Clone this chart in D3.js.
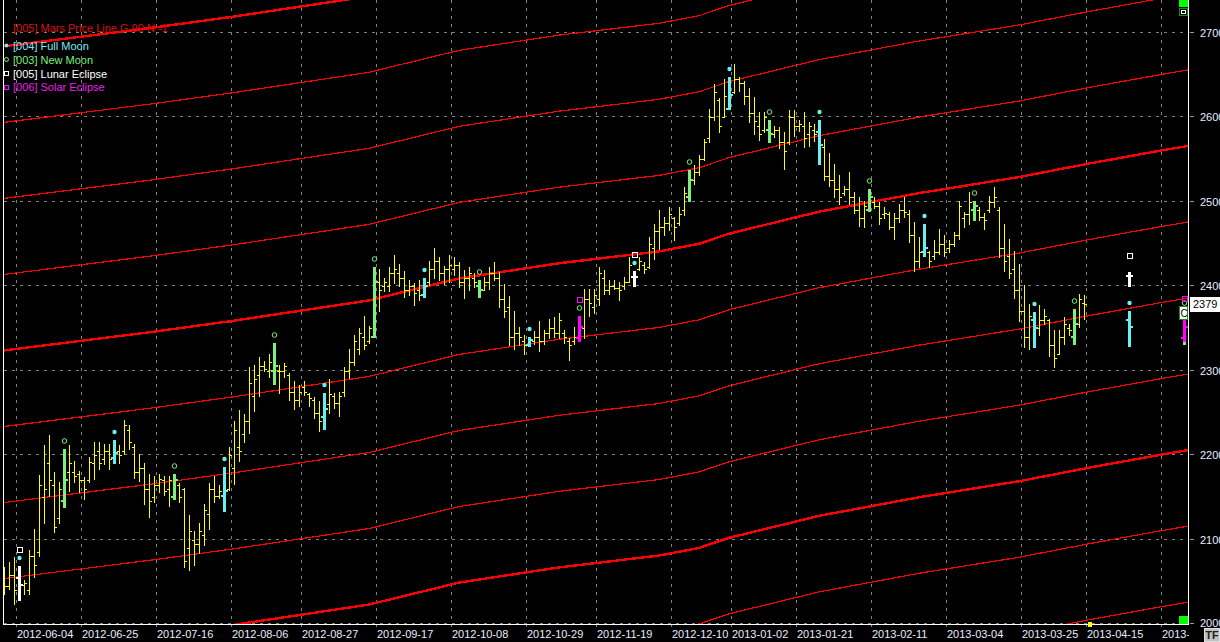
<!DOCTYPE html>
<html><head><meta charset="utf-8">
<script src="https://cdn.jsdelivr.net/npm/d3@7"></script>
<style>html,body{margin:0;padding:0;background:#000;overflow:hidden}svg{display:block}</style>
</head><body><svg id="c" width="1220" height="642"></svg>
<script>
// ---------------- data ----------------
const opens=[2060,2045,2058,2055,2046,2040,2080,2085,2150,2190,2165,2125,2146,2180,2180,2178,2170,2170,2190,2205,
2195,2205,2197,2205,2205,2230,2210,2180,2185,2160,2150,2165,2170,2160,2150,2165,2160,2090,2100,2095,
2105,2130,2160,2152,2151,2160,2185,2210,2225,2240,2270,2295,2305,2300,2300,2300,2300,2295,2275,2265,
2280,2272,2265,2250,2245,2260,2270,2262,2275,2300,2310,2325,2340,2335,2340,2405,2400,2400,2415,2415,
2410,2395,2400,2395,2390,2405,2420,2430,2415,2420,2420,2425,2405,2410,2410,2400,2395,2405,2415,2410,
2385,2375,2340,2345,2335,2330,2335,2340,2335,2345,2350,2345,2345,2335,2335,2338,2350,2385,2375,2385,
2410,2395,2400,2398,2400,2405,2411,2420,2425,2422,2445,2465,2470,2475,2480,2475,2490,2505,2525,2535,
2550,2575,2600,2620,2600,2609,2630,2645,2640,2625,2605,2590,2585,2585,2580,2585,2570,2570,2600,2590,
2590,2580,2585,2582,2565,2530,2525,2515,2510,2515,2505,2490,2480,2490,2500,2495,2485,2485,2470,2480,
2490,2485,2460,2430,2440,2440,2435,2440,2450,2445,2450,2460,2480,2485,2490,2490,2482,2490,2500,2490,
2445,2435,2420,2395,2370,2340,2360,2350,2360,2360,2330,2320,2340,2350,2340,2355,2380];
const highs=[2067,2073,2079,2069,2052,2087,2113,2176,2212,2224,2180,2168,2207,2212,2193,2181,2174,2198,2216,2215,
2213,2213,2218,2212,2242,2236,2213,2201,2190,2177,2175,2177,2175,2175,2177,2167,2161,2129,2110,2119,
2142,2167,2175,2165,2186,2209,2240,2253,2248,2304,2307,2316,2311,2319,2333,2307,2309,2297,2288,2283,
2288,2274,2269,2264,2274,2290,2274,2275,2304,2325,2342,2350,2364,2353,2423,2420,2409,2422,2437,2426,
2418,2407,2404,2407,2409,2430,2445,2434,2424,2437,2434,2428,2419,2422,2415,2407,2411,2422,2428,2417,
2402,2388,2370,2351,2342,2340,2347,2359,2348,2361,2363,2368,2348,2338,2351,2365,2396,2397,2396,2422,
2419,2407,2407,2405,2411,2434,2418,2434,2428,2458,2474,2490,2482,2493,2482,2493,2517,2537,2543,2555,
2574,2610,2639,2622,2645,2647,2663,2647,2643,2634,2624,2606,2606,2597,2590,2588,2582,2608,2608,2596,
2606,2594,2592,2596,2574,2557,2544,2531,2519,2535,2511,2505,2501,2515,2506,2499,2493,2488,2486,2497,
2505,2490,2476,2458,2473,2442,2454,2468,2460,2454,2464,2501,2488,2511,2501,2493,2486,2507,2517,2494,
2474,2456,2442,2426,2401,2379,2369,2377,2373,2361,2348,2348,2363,2355,2373,2391,2389];
const lows=[2036,2042,2024,2028,2036,2036,2056,2081,2120,2152,2109,2120,2138,2158,2168,2156,2148,2168,2172,2183,
2189,2183,2191,2190,2201,2207,2173,2169,2142,2127,2144,2156,2153,2140,2148,2144,2068,2064,2070,2084,
2094,2113,2144,2149,2134,2159,2166,2193,2215,2226,2252,2270,2299,2292,2284,2274,2292,2265,2254,2258,
2271,2258,2244,2228,2231,2250,2256,2246,2270,2291,2306,2319,2325,2333,2340,2371,2394,2394,2404,2400,
2387,2389,2378,2383,2387,2401,2409,2407,2403,2405,2413,2399,2386,2395,2399,2387,2395,2396,2407,2375,
2363,2330,2326,2330,2319,2329,2332,2323,2332,2338,2340,2338,2333,2312,2332,2335,2339,2365,2368,2377,
2391,2391,2396,2383,2397,2405,2400,2419,2415,2421,2432,2444,2460,2466,2454,2472,2484,2501,2521,2531,
2549,2570,2596,2582,2600,2609,2628,2631,2616,2594,2580,2573,2582,2570,2576,2564,2538,2568,2578,2584,
2565,2566,2572,2544,2526,2518,2506,2497,2508,2497,2486,2471,2470,2489,2492,2474,2481,2467,2456,2476,
2482,2452,2418,2422,2436,2422,2432,2438,2436,2440,2447,2456,2470,2474,2478,2478,2468,2488,2493,2434,
2418,2409,2386,2359,2328,2326,2328,2342,2355,2317,2304,2320,2332,2342,2331,2351,2361];
const closes=[2045,2058,2040,2046,2048,2080,2070,2165,2160,2170,2115,2160,2170,2190,2175,2170,2160,2192,2200,2190,
2205,2195,2202,2200,2235,2215,2180,2185,2160,2145,2165,2172,2158,2170,2170,2150,2075,2110,2095,2110,
2135,2160,2152,2158,2157,2200,2230,2205,2240,2285,2290,2305,2302,2310,2305,2300,2305,2275,2265,2275,
2275,2268,2250,2240,2255,2272,2262,2270,2300,2310,2335,2345,2330,2350,2405,2395,2405,2415,2420,2410,
2395,2400,2392,2390,2400,2420,2430,2415,2420,2425,2425,2405,2410,2415,2405,2395,2405,2415,2410,2385,
2370,2340,2345,2340,2330,2336,2340,2335,2345,2350,2345,2360,2340,2330,2340,2351,2385,2380,2390,2415,
2395,2400,2398,2395,2405,2425,2411,2430,2420,2450,2465,2470,2475,2485,2470,2485,2510,2525,2535,2550,
2570,2600,2630,2590,2625,2626,2645,2640,2625,2605,2595,2580,2600,2580,2585,2570,2560,2600,2590,2592,
2575,2590,2580,2567,2530,2525,2515,2505,2515,2505,2490,2480,2495,2505,2495,2480,2487,2470,2480,2490,
2488,2460,2430,2440,2445,2430,2440,2450,2440,2450,2460,2495,2485,2500,2495,2482,2478,2500,2505,2445,
2430,2415,2395,2370,2340,2365,2350,2360,2365,2330,2315,2340,2355,2348,2355,2385,2379];

const fullMoon=[3,22,44,64,84,105,126,145,163,184,206];
const newMoon=[12,34,54,74,95,115,137,153,173,194,214];
const lunarEclipse=[3,126];
const solarEclipse=[115];
// projected (future) event bars
const projIdx=[225,225,236,236];
const projType=["full","lunar","new","solar"];
const projO=[2360,2412,2338,2338];
const projH=[2370,2417,2371,2366];
const projL=[2329,2400,2332,2335];
const projC=[2351,2412,2351,2351];

// Mars price line (base harmonic), sampled by bar index
const marsIdx=[-1,30,46,73,91,111,131,139,145,163,183,203,217,231,237];
const marsBase=[2323,2346,2359,2383,2409,2427,2441,2450,2462,2488,2510,2529,2545,2560,2566];
const marsStep=90;
const marsK=[-7,-6,-5,-4,-3,-2,-1,0,1,2,3,4];

const yTicks=[2000,2100,2200,2300,2400,2500,2600,2700];
const xTickLabels=["2012-06-04","2012-06-25","2012-07-16","2012-08-06","2012-08-27","2012-09-17","2012-10-08","2012-10-29","2012-11-19","2012-12-10","2013-01-02","2013-01-21","2013-02-11","2013-03-04","2013-03-25","2013-04-15","2013-05-06"];
const xTickIdx=[3,16,31,46,60,75,90,105,119,134,146,159,174,189,204,217,232];

const legendTexts=["[005] Mars Price Line G 90 N -1","[004] Full Moon","[003] New Moon","[005] Lunar Eclipse","[006] Solar Eclipse"];

// ---------------- drawing ----------------
const COL={bar:"#ffff00",full:"#66f0f0",new:"#7cf07c",lunar:"#ffffff",solar:"#ff00ff",red:"#ff0000",grid:"#808080"};
const svg=d3.select("#c");
const FONT="'Liberation Sans', Arial, sans-serif";
svg.append("rect").attr("width",1220).attr("height",642).attr("fill","#000");

const x=d3.scaleLinear().domain([0,236]).range([4,1184]);
const y=d3.scaleLinear().domain([2000,2700]).range([624,32.6]);
const PL=4,PR=1188,PB=624;

const defs=svg.append("defs");
defs.append("clipPath").attr("id","plot").append("rect").attr("x",PL).attr("y",0).attr("width",PR-PL).attr("height",PB);
defs.append("clipPath").attr("id","xlab").append("rect").attr("x",0).attr("y",PB).attr("width",1189).attr("height",20);

// gridlines
const grid=svg.append("g").attr("shape-rendering","crispEdges");
yTicks.forEach(v=>{
  const yy=Math.round(y(v))-0.5;
  grid.append("line").attr("x1",PL).attr("x2",PR).attr("y1",yy).attr("y2",yy)
    .attr("stroke",COL.grid).attr("stroke-dasharray","3,5");
});
xTickIdx.forEach(i=>{
  const xx=x(i)-3+0.5;
  grid.append("line").attr("x1",xx).attr("x2",xx).attr("y1",0).attr("y2",PB+4)
    .attr("stroke",COL.grid).attr("stroke-dasharray","3,5");
});

// Mars price lines
const plot=svg.append("g").attr("clip-path","url(#plot)");
const lineGen=d3.line().x(d=>x(d[0])).y(d=>y(d[1]));
marsK.forEach(k=>{
  const pts=marsIdx.map((i,j)=>[i,marsBase[j]+k*marsStep]);
  plot.append("path").attr("d",lineGen(pts)).attr("fill","none")
    .attr("stroke",COL.red).attr("stroke-width",k%4===0?2.4:1.2)
    .attr("shape-rendering","crispEdges");
});

// bars
const bars=plot.append("g").attr("shape-rendering","crispEdges");
function R(g,x0,y0,w,h,c){g.append("rect").attr("x",x0).attr("y",y0).attr("width",w).attr("height",Math.max(1,h)).attr("fill",c);}
function normalBar(i){
  const cx=x(i),yh=Math.round(y(highs[i])),yl=Math.round(y(lows[i])),yo=Math.round(y(opens[i])),yc=Math.round(y(closes[i]));
  R(bars,cx,yh,1,yl-yh+1,COL.bar);
  R(bars,cx-2,yo,2,1,COL.bar);
  R(bars,cx+1,yc,2,1,COL.bar);
}
function thickBar(i,o,h,l,c,color){
  const cx=x(i),yh=Math.round(y(h)),yl=Math.round(y(l)),yo=Math.round(y(o)),yc=Math.round(y(c));
  R(bars,cx-1,yh,3,yl-yh+1,color);
  R(bars,cx-3,yo-1,2,2,color);
  R(bars,cx+2,yc-1,2,2,color);
  return yh;
}
for(let i=0;i<highs.length;i++) normalBar(i);

const marks=plot.append("g");
function dot(i,yh,color){marks.append("circle").attr("cx",x(i)+0.5).attr("cy",yh-8).attr("r",2.2).attr("fill",color);}
function ring(i,yh,color){marks.append("circle").attr("cx",x(i)+0.5).attr("cy",yh-8).attr("r",2.3).attr("fill","none").attr("stroke",color).attr("stroke-width",1);}
function sq(i,yh,color){marks.append("rect").attr("x",x(i)-2).attr("y",yh-18.5).attr("width",5).attr("height",5).attr("fill","none").attr("stroke",color).attr("stroke-width",1).attr("shape-rendering","crispEdges");}

fullMoon.forEach(i=>{const yh=thickBar(i,opens[i],highs[i],lows[i],closes[i],COL.full);dot(i,yh,COL.full);});
newMoon.forEach(i=>{const yh=thickBar(i,opens[i],highs[i],lows[i],closes[i],COL.new);ring(i,yh,COL.new);});
lunarEclipse.forEach(i=>{const yh=thickBar(i,opens[i],highs[i],lows[i],closes[i],COL.lunar);sq(i,yh,COL.lunar);});
solarEclipse.forEach(i=>{const yh=thickBar(i,opens[i],highs[i],lows[i],closes[i],COL.solar);sq(i,yh,COL.solar);});
projIdx.forEach((i,j)=>{
  const t=projType[j];
  const yh=thickBar(i,projO[j],projH[j],projL[j],projC[j],COL[t]);
  if(t==="full")dot(i,yh,COL.full);
  if(t==="new")ring(i,yh,COL.new);
  if(t==="lunar")sq(i,yh,COL.lunar);
  if(t==="solar")sq(i,yh,COL.solar);
});

// frame
const fr=svg.append("g").attr("shape-rendering","crispEdges");
fr.append("line").attr("x1",3.5).attr("x2",3.5).attr("y1",0).attr("y2",PB+1).attr("stroke","#fff");
fr.append("line").attr("x1",PR+0.5).attr("x2",PR+0.5).attr("y1",0).attr("y2",PB+1).attr("stroke","#fff");
fr.append("line").attr("x1",3).attr("x2",PR+1).attr("y1",PB+0.5).attr("y2",PB+0.5).attr("stroke","#fff");

// y axis labels
yTicks.forEach(v=>{
  const yy=Math.round(y(v));
  fr.append("line").attr("x1",1190).attr("x2",1194).attr("y1",yy-0.5).attr("y2",yy-0.5).attr("stroke","#9a9a9a");
  svg.append("text").attr("x",1200).attr("y",yy+(v===2000?3:4)).text(v).attr("fill","#e6eeff")
    .attr("font-family",FONT).attr("font-size",11);
});
// x axis labels
const xl=svg.append("g").attr("clip-path","url(#xlab)");
xTickIdx.forEach((i,j)=>{
  xl.append("text").attr("x",x(i)-2).attr("y",638).text(xTickLabels[j]).attr("fill","#e6eeff")
    .attr("font-family",FONT).attr("font-size",11);
});

// last price box
const last=closes[closes.length-1];
const ly=Math.round(y(last));
fr.append("rect").attr("x",1190).attr("y",ly-7).attr("width",30).attr("height",15).attr("fill","#fff");
svg.append("text").attr("x",1193).attr("y",ly+4).text(last).attr("fill","#000").attr("font-family",FONT).attr("font-size",11);
fr.append("rect").attr("x",1179.5).attr("y",ly+2.5).attr("width",8).attr("height",13).attr("fill","#fff").attr("stroke","#1a8a1a");
svg.append("text").attr("x",1180.5).attr("y",ly+13).text("C").attr("fill","#000").attr("font-family",FONT).attr("font-size",10);

// corner widgets
fr.append("rect").attr("x",1179).attr("y",0).attr("width",9).attr("height",7).attr("fill","#00ff00");
fr.append("rect").attr("x",1179.5).attr("y",8.5).attr("width",8).attr("height",7).attr("fill","#000").attr("stroke","#1a8a1a");
fr.append("rect").attr("x",1181.5).attr("y",10.5).attr("width",4).attr("height",3).attr("fill","none").attr("stroke","#fff");
fr.append("rect").attr("x",1179).attr("y",616).attr("width",9).attr("height",8).attr("fill","#00ff00");
fr.append("rect").attr("x",1088).attr("y",622).attr("width",4).attr("height",5).attr("fill","#ffff00");
fr.append("rect").attr("x",1204.5).attr("y",628.5).attr("width",15).attr("height",13).attr("fill","#c0c0c0").attr("stroke","#e0e0e0");
svg.append("text").attr("x",1212).attr("y",639).attr("text-anchor","middle").text("TF").attr("fill","#202020")
  .attr("font-family",FONT).attr("font-size",11).attr("font-weight","bold");

// legend
const leg=svg.append("g");
const legY=[32,50,63.5,77.5,91];
const legCol=["#dd1010","#78e8f8",COL.new,"#ffffff","#e820e8"];
legendTexts.forEach((t,j)=>{
  leg.append("text").attr("x",13).attr("y",legY[j]).text(t).attr("fill",legCol[j])
    .attr("font-family",FONT).attr("font-size",11);
});
leg.append("circle").attr("cx",6.5).attr("cy",45.5).attr("r",2).attr("fill",COL.full);
leg.append("circle").attr("cx",6.5).attr("cy",59.5).attr("r",2).attr("fill","none").attr("stroke",COL.new);
leg.append("rect").attr("x",4.5).attr("y",71.5).attr("width",4).attr("height",4).attr("fill","none").attr("stroke","#fff").attr("shape-rendering","crispEdges");
leg.append("rect").attr("x",4.5).attr("y",85.5).attr("width",4).attr("height",4).attr("fill","none").attr("stroke",COL.solar).attr("shape-rendering","crispEdges");
</script></body></html>
